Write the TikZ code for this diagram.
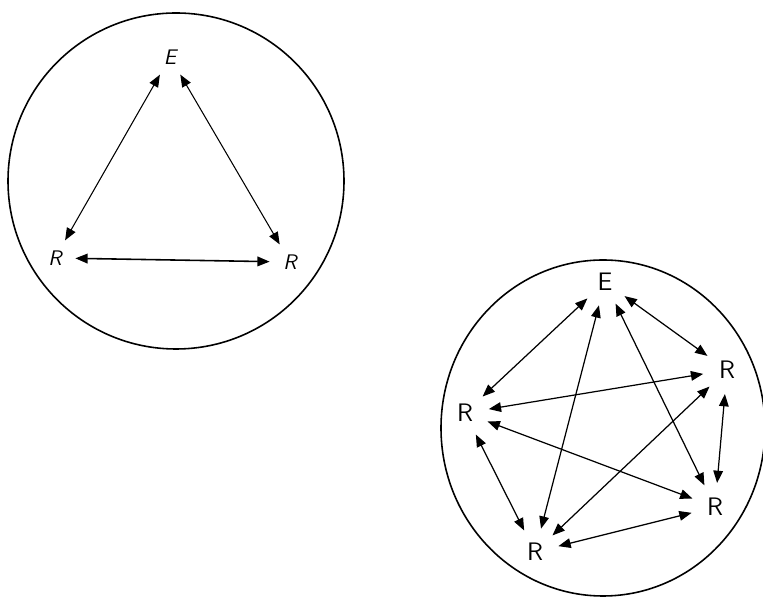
\documentclass[tikz,border=0pt]{standalone}
\usepackage{tikz}
\usetikzlibrary{arrows.meta, positioning}

\begin{document}
\begin{tikzpicture}[
  ring/.style={draw, line width=0.9pt},
  lbl/.style={circle, inner sep=0pt, minimum size=0.8cm, font=\sffamily\itshape\large},
  biglbl/.style={lbl, minimum size=0.95cm, font=\sffamily\Large},
  link/.style={{Triangle[length=7pt,width=5.5pt]}-{Triangle[length=7pt,width=5.5pt]}, line width=0.6pt},
]
  \useasboundingbox (0,0) rectangle (15.26,-11.96);

  % Left circle
  \draw[ring] (3.52,-3.62) circle (3.36);
  \node[lbl] (e1) at (3.40,-1.14) {E};
  \node[lbl] (r1a) at (1.10,-5.16) {R};
  \node[lbl] (r1b) at (5.80,-5.24) {R};
  \draw[link] (e1) -- (r1a);
  \draw[link] (e1) -- (r1b);
  \draw[link, line width=0.9pt] (r1a) -- (r1b);

  % Right circle
  \draw[ring] (12.06,-8.56) ellipse (3.24 and 3.36);
  \node[biglbl] (e2) at (12.10,-5.64) {E};
  \node[biglbl] (r2a) at (14.54,-7.40) {R};
  \node[biglbl] (r2b) at (14.30,-10.14) {R};
  \node[biglbl] (r2c) at (10.70,-11.04) {R};
  \node[biglbl] (r2d) at (9.30,-8.26) {R};
  \foreach \a/\b in {e2/r2a, e2/r2b, e2/r2c, e2/r2d, r2a/r2b, r2a/r2c, r2a/r2d, r2b/r2c, r2b/r2d, r2c/r2d}
    \draw[link, line width=0.7pt] (\a) -- (\b);
\end{tikzpicture}
\end{document}
